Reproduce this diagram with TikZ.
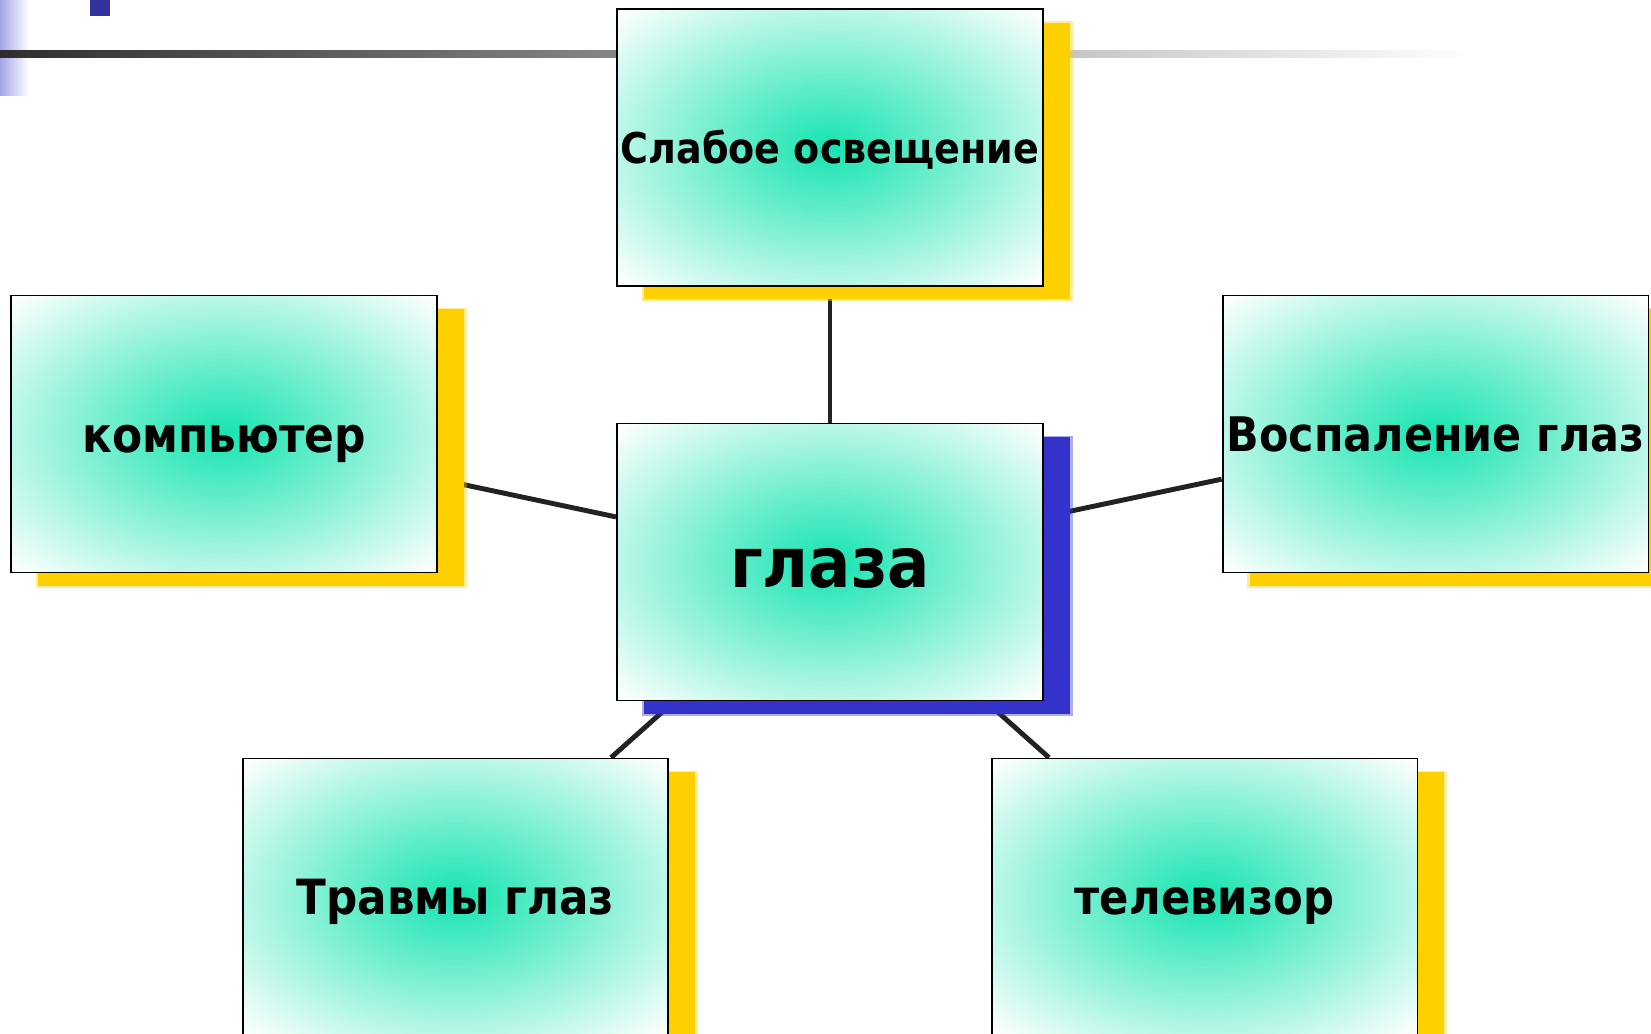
\documentclass[tikz,border=0pt]{standalone}
\usepackage{fontspec}
\setmainfont{DejaVu Sans Condensed}
\usepackage{tikz}
\usetikzlibrary{shadows}
\usetikzlibrary{positioning}
\usetikzlibrary{backgrounds}

\definecolor{eyegreen}{RGB}{22,228,176}
\definecolor{shadowyellow}{RGB}{255,208,0}
\definecolor{shadowblue}{RGB}{51,51,204}
\definecolor{linkgray}{RGB}{34,34,34}
\definecolor{barlilac}{RGB}{165,165,230}
\definecolor{squareblue}{RGB}{51,51,160}

\pgfdeclareradialshading{eyeshade}{\pgfpoint{0bp}{0bp}}{color(0bp)=(eyegreen); color(35bp)=(white); color(50bp)=(white)}

\tikzset{
  box/.style={rectangle, draw=black, line width=1.1pt, shading=eyeshade,
    minimum width=8.52cm, minimum height=5.54cm, inner sep=0pt, text depth=0pt},
  yellowshadow/.style={
    drop shadow={fill=shadowyellow, opacity=0.4, shadow xshift=0.54cm, shadow yshift=-0.27cm, shadow scale=1.012},
    drop shadow={fill=shadowyellow, opacity=1, shadow xshift=0.54cm, shadow yshift=-0.27cm}},
  blueshadow/.style={
    drop shadow={fill=shadowblue, opacity=0.4, shadow xshift=0.54cm, shadow yshift=-0.27cm, shadow scale=1.012},
    drop shadow={fill=shadowblue, opacity=1, shadow xshift=0.54cm, shadow yshift=-0.27cm}},
  link/.style={draw=linkgray, line width=2.8pt}
}

\begin{document}
\begin{tikzpicture}[x=0.02cm, y=-0.02cm]
  \useasboundingbox (0,0) rectangle (1651,1034);

  % title decoration
  \shade[left color=barlilac, right color=white] (0,0) rectangle (29,96);
  \fill[squareblue] (90,0) rectangle (110,16);
  \shade[left color=black!82, right color=white] (0,51) rectangle (1470,58);

  % centre
  \node[box, blueshadow, font=\bfseries\fontsize{39.7}{42}\selectfont, text height=29.4pt] (glaza) at (830,562) {глаза};

  % causes round it
  \foreach \name/\x/\y/\fs/\txt in {svet/830/147.5/24.1/Слабое освещение,
      komp/224/434/27.8/компьютер, vospal/1435.5/434/27.1/Воспаление глаз,
      travmy/455.5/897/27.6/Травмы глаз, tv/1204.5/897/27.4/телевизор} {
    \node[box, yellowshadow, font=\bfseries\fontsize{\fs}{\fs}\selectfont, text height=0.74*\fs pt] (\name) at (\x,\y) {\txt};
  }

  \begin{scope}[on background layer]
    \foreach \name in {svet, komp, vospal, travmy, tv}
      \draw[link] (glaza) -- (\name);
  \end{scope}
\end{tikzpicture}
\end{document}
